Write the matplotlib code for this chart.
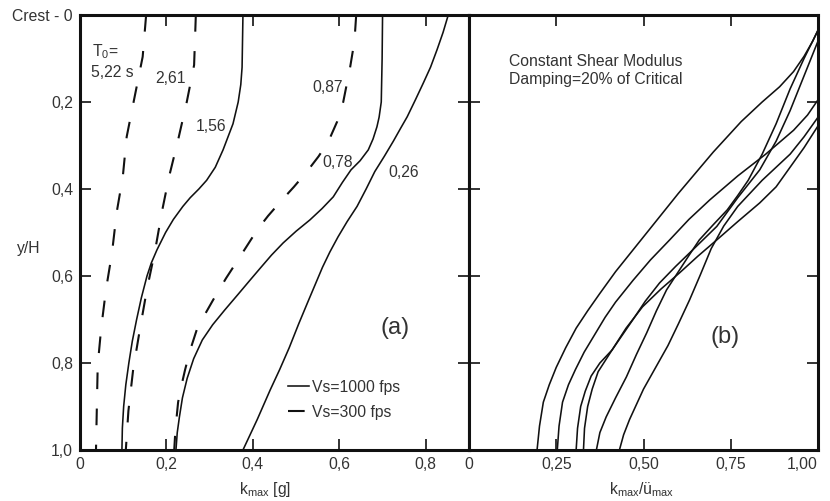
import matplotlib
matplotlib.use('Agg')
import matplotlib.pyplot as plt
from matplotlib.lines import Line2D

plt.rcParams['font.family'] = ['Liberation Sans', 'DejaVu Sans']
plt.rcParams['mathtext.fontset'] = 'custom'
plt.rcParams['mathtext.rm'] = 'Liberation Sans'
plt.rcParams['mathtext.it'] = 'Liberation Sans:italic'
plt.rcParams['mathtext.default'] = 'rm'
plt.rcParams['lines.scale_dashes'] = False

# --- (a) perfiles k_max [g] vs y/H ---
# Vs = 1000 fps (continuas)
y_156 = [0, 0.12, 0.16, 0.2, 0.25, 0.31, 0.35, 0.38, 0.40, 0.42, 0.44, 0.47, 0.50,
         0.54, 0.57, 0.6, 0.65, 0.7, 0.75, 0.8, 0.85, 0.9, 0.95, 1.0]
k_156 = [0.377, 0.375, 0.372, 0.366, 0.354, 0.331, 0.313, 0.293, 0.275, 0.255, 0.238,
         0.216, 0.198, 0.178, 0.165, 0.155, 0.142, 0.131, 0.121, 0.113, 0.106, 0.101,
         0.098, 0.097]

y_078 = [0, 0.1, 0.2, 0.235, 0.257, 0.285, 0.31, 0.335, 0.356, 0.385, 0.418, 0.445,
         0.471, 0.497, 0.524, 0.552, 0.582, 0.61, 0.643, 0.678, 0.712, 0.747, 0.79,
         0.835, 0.88, 0.924, 0.96, 1.0]
k_078 = [0.70, 0.699, 0.697, 0.692, 0.687, 0.678, 0.667, 0.648, 0.627, 0.607, 0.586,
         0.56, 0.532, 0.50, 0.47, 0.443, 0.417, 0.393, 0.365, 0.335, 0.307, 0.283,
         0.263, 0.248, 0.237, 0.23, 0.225, 0.222]

y_026 = [0, 0.04, 0.08, 0.12, 0.157, 0.195, 0.234, 0.26, 0.29, 0.325, 0.36, 0.40,
         0.44, 0.475, 0.51, 0.545, 0.58, 0.62, 0.66, 0.71, 0.765, 0.815, 0.862, 0.93, 1.0]
k_026 = [0.852, 0.84, 0.826, 0.811, 0.794, 0.776, 0.757, 0.742, 0.725, 0.704, 0.682,
         0.662, 0.641, 0.618, 0.597, 0.578, 0.561, 0.544, 0.527, 0.506, 0.484, 0.462,
         0.44, 0.41, 0.377]

# Vs = 300 fps (discontinuas)
y_522 = [0, 0.096, 0.195, 0.28, 0.372, 0.453, 0.547, 0.632, 0.72, 0.805, 0.9, 1.0]
k_522 = [0.153, 0.145, 0.125, 0.108, 0.099, 0.085, 0.074, 0.06, 0.049, 0.041, 0.039, 0.037]

y_261 = [0, 0.115, 0.2, 0.287, 0.372, 0.45, 0.54, 0.63, 0.72, 0.815, 0.91, 1.0]
k_261 = [0.268, 0.264, 0.247, 0.227, 0.206, 0.19, 0.174, 0.155, 0.139, 0.123, 0.112, 0.106]

y_087 = [0, 0.06, 0.12, 0.2, 0.245, 0.29, 0.325, 0.36, 0.395, 0.43, 0.462, 0.494,
         0.525, 0.556, 0.605, 0.655, 0.69, 0.724, 0.77, 0.816, 0.855, 0.89, 0.95, 1.0]
k_087 = [0.639, 0.635, 0.625, 0.609, 0.595, 0.575, 0.552, 0.525, 0.495, 0.463, 0.435,
         0.41, 0.39, 0.37, 0.338, 0.308, 0.288, 0.27, 0.255, 0.243, 0.234, 0.227,
         0.221, 0.218]

# --- (b) k_max / ü_max vs y/H ---
rA = [0.195, 0.202, 0.213, 0.23, 0.25, 0.277, 0.307, 0.34, 0.375, 0.42, 0.465, 0.51,
      0.60, 0.70, 0.78, 0.84, 0.89, 0.93, 0.96, 0.985, 1.0]
yA = [1.0, 0.945, 0.89, 0.85, 0.81, 0.765, 0.72, 0.68, 0.64, 0.59, 0.545, 0.50,
      0.41, 0.315, 0.245, 0.20, 0.165, 0.13, 0.095, 0.06, 0.035]

rB = [0.253, 0.258, 0.268, 0.285, 0.305, 0.33, 0.36, 0.39, 0.42, 0.47, 0.52, 0.575,
      0.63, 0.69, 0.77, 0.85, 0.93, 0.97, 1.0]
yB = [1.0, 0.945, 0.89, 0.85, 0.815, 0.775, 0.735, 0.695, 0.66, 0.61, 0.563, 0.517,
      0.47, 0.425, 0.37, 0.32, 0.265, 0.23, 0.195]

rC = [0.307, 0.311, 0.32, 0.333, 0.35, 0.375, 0.41, 0.45, 0.497, 0.55, 0.603, 0.655,
      0.71, 0.77, 0.833, 0.88, 0.92, 0.96, 1.0]
yC = [1.0, 0.95, 0.9, 0.865, 0.83, 0.80, 0.77, 0.72, 0.671, 0.63, 0.593, 0.555,
      0.517, 0.475, 0.432, 0.395, 0.35, 0.305, 0.255]

rD = [0.328, 0.331, 0.34, 0.353, 0.37, 0.39, 0.41, 0.44, 0.47, 0.505, 0.546, 0.592,
      0.641, 0.71, 0.77, 0.833, 0.88, 0.92, 0.96, 1.0]
yD = [1.0, 0.95, 0.9, 0.86, 0.82, 0.795, 0.77, 0.735, 0.70, 0.658, 0.616, 0.578,
      0.54, 0.486, 0.42, 0.356, 0.29, 0.22, 0.14, 0.06]

rE = [0.365, 0.375, 0.393, 0.42, 0.451, 0.48, 0.509, 0.537, 0.566, 0.60, 0.63, 0.66,
      0.70, 0.74, 0.77, 0.80, 0.84, 0.88, 0.92, 0.96, 1.0]
yE = [1.0, 0.96, 0.924, 0.88, 0.832, 0.78, 0.731, 0.68, 0.632, 0.59, 0.553, 0.517,
      0.482, 0.448, 0.415, 0.38, 0.32, 0.25, 0.17, 0.10, 0.035]

rF = [0.431, 0.443, 0.46, 0.48, 0.50, 0.535, 0.57, 0.60, 0.632, 0.663, 0.694, 0.73,
      0.77, 0.805, 0.84, 0.88, 0.92, 0.96, 1.0]
yF = [1.0, 0.965, 0.93, 0.895, 0.86, 0.81, 0.76, 0.71, 0.655, 0.597, 0.537, 0.485,
      0.44, 0.41, 0.38, 0.35, 0.32, 0.28, 0.235]

yticks = [0, 0.2, 0.4, 0.6, 0.8, 1.0]
ylabels = ['Crest - 0', '0,2', '0,4', '0,6', '0,8', '1,0']
xticks_a = [0, 0.2, 0.4, 0.6, 0.8]
xlabels_a = ['0', '0,2', '0,4', '0,6', '0,8']
xticks_b = [0, 0.25, 0.5, 0.75, 1.0]
xlabels_b = ['0', '0,25', '0,50', '0,75', '1,00']

negro = '#111111'
gris = '#333333'
lw_cont = 1.15
lw_disc = 1.5
discont = (0, (12, 14))
fs = 11.3

fig = plt.figure(figsize=(8.3, 5.01), dpi=100)
ax1 = fig.add_axes([80 / 830, 51 / 501, 389 / 830, 435 / 501])
ax2 = fig.add_axes([469 / 830, 51 / 501, 349 / 830, 435 / 501])

for ax in (ax1, ax2):
    ax.set_ylim(1.0, 0)
    ax.set_yticks(yticks)
    for s in ax.spines.values():
        s.set_linewidth(2.2)
        s.set_color(negro)
    ax.tick_params(direction='in', length=8, width=1.2, top=True, right=True,
                   colors=negro, labelcolor=gris, labelsize=fs, pad=5)

# panel (a)
ax1.plot(k_156, y_156, color=negro, lw=lw_cont)
ax1.plot(k_078, y_078, color=negro, lw=lw_cont)
ax1.plot(k_026, y_026, color=negro, lw=lw_cont)
ax1.plot(k_522, y_522, color=negro, lw=lw_disc, ls=discont)
ax1.plot(k_261, y_261, color=negro, lw=lw_disc, ls=discont)
ax1.plot(k_087, y_087, color=negro, lw=lw_disc, ls=discont)

ax1.set_xlim(0, 0.9)
ax1.set_xticks(xticks_a)
ax1.set_xticklabels(xlabels_a)
ax1.set_yticklabels(ylabels)
ax1.set_xlabel(r'k$_{max}$ [g]', fontsize=fs, color=gris)
ax1.xaxis.set_label_coords(0.476, -0.07)
ax1.set_ylabel('y/H', fontsize=fs, color=gris, rotation=0, va='center', ha='center')
ax1.yaxis.set_label_coords(-0.131, 0.464)

ax1.text(0.028, 0.085, r'T$_0$=', fontsize=fs, color=gris, va='center')
ax1.text(0.026, 0.133, '5,22 s', fontsize=fs, color=gris, va='center')
ax1.text(0.174, 0.145, '2,61', fontsize=fs, color=gris, va='center')
ax1.text(0.268, 0.257, '1,56', fontsize=fs, color=gris, va='center')
ax1.text(0.537, 0.166, '0,87', fontsize=fs, color=gris, va='center')
ax1.text(0.56, 0.338, '0,78', fontsize=fs, color=gris, va='center')
ax1.text(0.713, 0.361, '0,26', fontsize=fs, color=gris, va='center')
ax1.text(0.729, 0.72, '(a)', fontsize=17, color=gris, va='center', ha='center')

handles = [Line2D([], [], color=negro, lw=lw_cont),
           Line2D([], [], color=negro, lw=lw_disc, ls=discont)]
ax1.legend(handles, ['Vs=1000 fps', 'Vs=300 fps'], loc='upper left',
           bbox_to_anchor=(0.535, 0.162), frameon=False, fontsize=fs,
           handlelength=1.35, handletextpad=0.15, labelspacing=0.66,
           borderpad=0, borderaxespad=0, labelcolor=gris)

# panel (b)
for r, y in ((rA, yA), (rB, yB), (rC, yC), (rD, yD), (rE, yE), (rF, yF)):
    ax2.plot(r, y, color=negro, lw=lw_cont, clip_on=False)

ax2.set_xlim(0, 1.0)
ax2.set_xticks(xticks_b)
ax2.set_xticklabels(xlabels_b)
ax2.get_xticklabels()[-1].set_horizontalalignment('right')
ax2.set_yticklabels([])
ax2.set_xlabel(r'k$_{max}$/ü$_{max}$', fontsize=fs, color=gris)
ax2.xaxis.set_label_coords(0.496, -0.07)

ax2.text(0.115, 0.108, 'Constant Shear Modulus', fontsize=fs, color=gris, va='center')
ax2.text(0.115, 0.149, 'Damping=20% of Critical', fontsize=fs, color=gris, va='center')
ax2.text(0.733, 0.74, '(b)', fontsize=17, color=gris, va='center', ha='center')

fig.savefig('out.png', dpi=100)
